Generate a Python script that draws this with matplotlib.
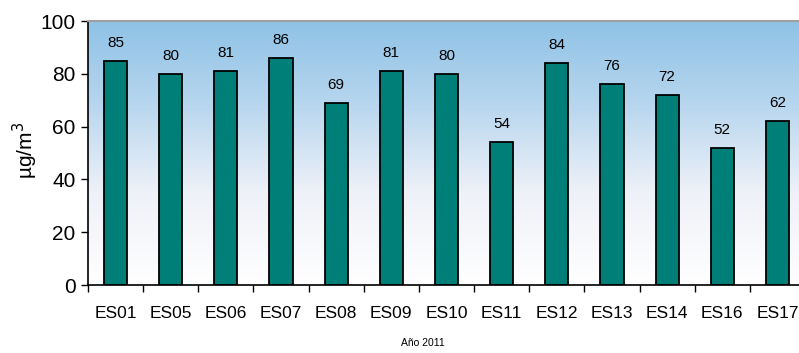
# -*- coding: utf-8 -*-
"""
Bar chart of annual values per station, Año 2011.
"""

import matplotlib
matplotlib.use('Agg')
import matplotlib.pyplot as plt
import numpy as np
from matplotlib.colors import LinearSegmentedColormap

stations = ['ES01', 'ES05', 'ES06', 'ES07', 'ES08', 'ES09', 'ES10',
            'ES11', 'ES12', 'ES13', 'ES14', 'ES16', 'ES17']
values = [85, 80, 81, 86, 69, 81, 80, 54, 84, 76, 72, 52, 62]
yticks = [0, 20, 40, 60, 80, 100]

plt.rcParams['font.family'] = ['Liberation Sans', 'DejaVu Sans']

fig = plt.figure(figsize=(7.99, 3.53), dpi=100)
ax = fig.add_axes([0.110, 0.1926, 0.8975, 0.7479])

x = np.arange(len(stations))

# Background gradient: light blue at top fading to white
grad = LinearSegmentedColormap.from_list(
    'bg', [(0.0, '#ffffff'), (0.35, '#eef1f8'), (0.7, '#b5d5ee'), (1.0, '#8ec2e6')])
ax.imshow(np.linspace(0, 1, 256).reshape(-1, 1), cmap=grad, aspect='auto',
          origin='lower', extent=(-0.5, len(stations) - 0.5, 0, 100), zorder=0)

ax.bar(x, values, width=0.42, color='#007f78', edgecolor='black',
       linewidth=1.3, zorder=2)

for xi, v in zip(x, values):
    ax.text(xi, v + 4.2, str(v), ha='center', va='bottom', fontsize=11, zorder=3)

ax.set_xlim(-0.5, len(stations) - 0.5)
ax.set_ylim(0, 100)
ax.set_yticks(yticks)
ax.set_yticklabels([str(t) for t in yticks], fontsize=15)
ax.set_xticks(x)
ax.set_xticklabels(stations, fontsize=12.5)
ax.tick_params(axis='x', length=0, pad=15)
ax.set_xticks(np.arange(len(stations) + 1) - 0.5, minor=True)
ax.tick_params(axis='x', which='minor', length=5, width=1, direction='out')
ax.tick_params(axis='y', length=5, width=1, direction='out', pad=4)

ax.spines['left'].set_linewidth(1.2)
ax.spines['bottom'].set_linewidth(1.2)
ax.spines['top'].set_color('#a0a0a0')
ax.spines['top'].set_linewidth(1.5)
ax.spines['right'].set_visible(False)

fig.text(25 / 799, 1 - 150 / 353, 'µg/m$^3$', rotation=90, ha='center',
         va='center', fontsize=15)
fig.text(423 / 799, 1 - 343 / 353, 'Año 2011', ha='center', va='center',
         fontsize=7.5)

plt.savefig('out.png', dpi=100)
plt.close()
